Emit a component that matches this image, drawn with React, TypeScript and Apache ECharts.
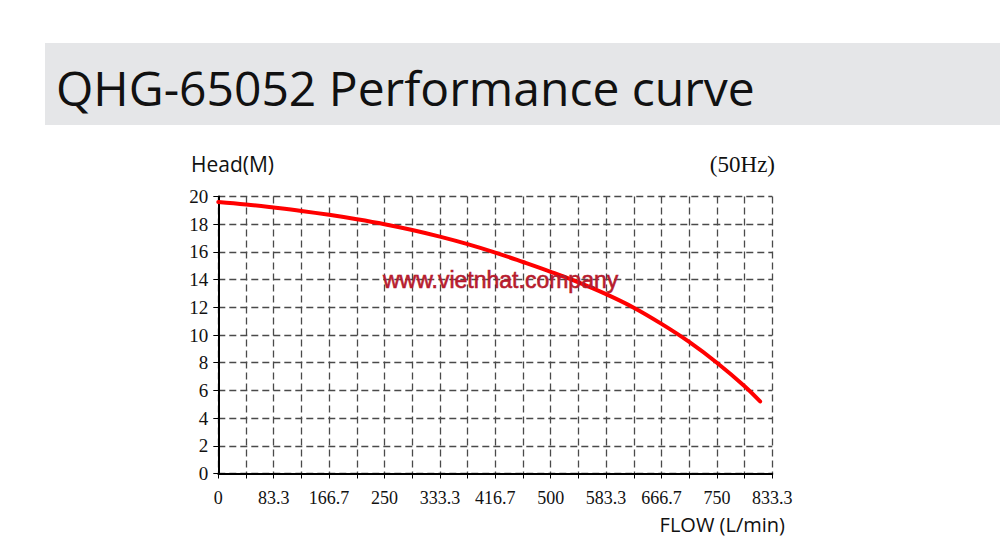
import React, { useEffect, useRef } from "react";
import * as echarts from "echarts";

const title = "QHG-65052 Performance curve";
const yAxisName = "Head(M)";
const xAxisName = "FLOW (L/min)";
const freqLabel = "(50Hz)";
const watermark = "www.vietnhat.company";

const xTickLabels = ["0", "83.3", "166.7", "250", "333.3", "416.7", "500", "583.3", "666.7", "750", "833.3"];
const yTickLabels = ["0", "2", "4", "6", "8", "10", "12", "14", "16", "18", "20"];

const flow = [0, 41.7, 83.3, 125, 166.7, 208.3, 250, 291.7, 333.3, 375, 416.7, 458.3, 500, 541.7, 583.3, 625, 666.7, 708.3, 750, 791.7, 815];
const head = [19.6, 19.42, 19.2, 18.96, 18.68, 18.36, 18.0, 17.58, 17.1, 16.56, 15.95, 15.27, 14.56, 13.8, 12.95, 11.97, 10.8, 9.5, 8.0, 6.3, 5.2];

const X_STEP = 250 / 3;
const X_MAX = X_STEP * 10;

export default function App() {
  const ref = useRef<HTMLDivElement>(null);
  useEffect(() => {
    if (!ref.current) return;
    const chart = echarts.init(ref.current, null, { renderer: "svg" });
    const dash = { color: "#4a4a4a", width: 1.3, type: [7, 4] as number[] };
    const labelFont = "'Liberation Serif', 'DejaVu Serif', serif";
    chart.setOption({
      animation: false,
      backgroundColor: "#ffffff",
      grid: { left: 218.3, top: 196.5, width: 554, height: 277, containLabel: false },
      xAxis: {
        type: "value",
        min: 0,
        max: X_MAX,
        interval: X_STEP,
        axisLine: { show: true, onZero: false, lineStyle: { color: "#000", width: 2 } },
        axisTick: { show: true, length: 5, lineStyle: { color: "#000", width: 1 } },
        minorTick: { show: true, splitNumber: 2, length: 5, lineStyle: { color: "#000", width: 1 } },
        splitLine: { show: true, lineStyle: dash },
        minorSplitLine: { show: true, lineStyle: dash },
        axisLabel: {
          margin: 15,
          fontFamily: labelFont,
          fontSize: 18,
          color: "#111",
          showMaxLabel: true,
          formatter: (v: number) => xTickLabels[Math.round(v / X_STEP)] ?? "",
        },
      },
      yAxis: {
        type: "value",
        min: 0,
        max: 20,
        interval: 2,
        axisLine: { show: true, onZero: false, lineStyle: { color: "#000", width: 2 } },
        axisTick: { show: true, length: 5, lineStyle: { color: "#000", width: 1 } },
        splitLine: { show: true, lineStyle: dash },
        axisLabel: {
          margin: 10,
          fontFamily: labelFont,
          fontSize: 19,
          color: "#111",
          showMaxLabel: true,
          formatter: (v: number) => yTickLabels[Math.round(v / 2)] ?? "",
        },
      },
      series: [
        {
          type: "line",
          data: flow.map((f, i) => [f, head[i]]),
          smooth: 0.4,
          showSymbol: false,
          symbol: "none",
          lineStyle: { color: "#ff0000", width: 4, cap: "round" },
          z: 5,
        },
      ],
      graphic: [
        {
          type: "rect",
          left: 45,
          top: 43,
          shape: { width: 955, height: 82 },
          style: { fill: "#e5e6e8" },
          z: -10,
          silent: true,
        },
        {
          type: "text",
          x: 56,
          y: 87,
          style: {
            text: title,
            fill: "#111",
            font: "48px 'Open Sans', 'Noto Sans', sans-serif",
            verticalAlign: "middle",
          },
        },
        {
          type: "text",
          x: 191,
          y: 164,
          style: {
            text: yAxisName,
            fill: "#111",
            font: "21px 'Open Sans', 'Noto Sans', sans-serif",
            verticalAlign: "middle",
          },
        },
        {
          type: "text",
          x: 775,
          y: 164,
          style: {
            text: freqLabel,
            fill: "#111",
            font: "23px 'Liberation Serif', 'DejaVu Serif', serif",
            align: "right",
            verticalAlign: "middle",
          },
        },
        {
          type: "text",
          x: 785,
          y: 524,
          style: {
            text: xAxisName,
            fill: "#111",
            font: "20px 'Open Sans', 'Noto Sans', sans-serif",
            align: "right",
            verticalAlign: "middle",
          },
        },
        {
          type: "text",
          x: 383,
          y: 280,
          z: 100,
          style: {
            text: watermark,
            fill: "#b71c2e",
            stroke: "#b71c2e",
            lineWidth: 0.6,
            font: "23px 'Liberation Sans', Arial, sans-serif",
            verticalAlign: "middle",
          },
        },
      ],
    });
    return () => chart.dispose();
  }, []);
  return (
    <div
      ref={ref}
      style={{ position: "fixed", left: 0, top: 0, width: 1000, height: 560, background: "#fff" }}
    />
  );
}
